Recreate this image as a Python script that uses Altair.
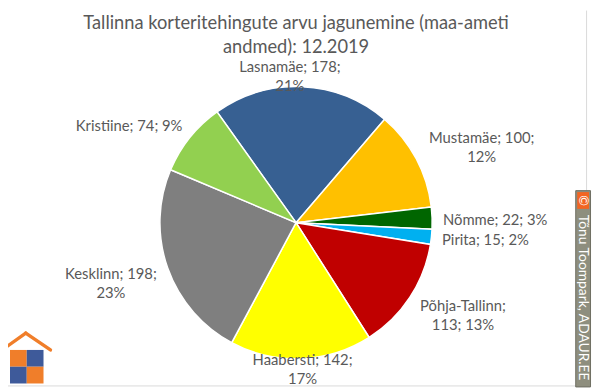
import math
import altair as alt
import pandas as pd

# ---- data ----
names = ["Lasnamäe", "Mustamäe", "Nõmme", "Pirita", "Põhja-Tallinn", "Haabersti", "Kesklinn", "Kristiine"]
values = [178, 100, 22, 15, 113, 142, 198, 74]
percents = [21, 12, 3, 2, 13, 17, 23, 9]
colors = ["#376092", "#FFC000", "#006600", "#00B0F0", "#C00000", "#FFFF00", "#7F7F7F", "#92D050"]
title_lines = ["Tallinna korteritehingute arvu jagunemine (maa-ameti", "andmed): 12.2019"]
credit = "Tõnu Toompark, ADAUR.EE"

# ---- layout / style ----
W, H = 592, 384
CX, CY = 292, 215
R = 138
START = math.radians(-35.5)
FONT = "Lato"
TXT = "#595959"
LH = 19

# line break mode, radius, dx, dy per label
label_style = {
    "Lasnamäe": ("value", 151, -13, 3),
    "Mustamäe": ("value", 203, 9, 19),
    "Nõmme": (None, 202, 0, 4),
    "Pirita": (None, 193, 0, -2),
    "Põhja-Tallinn": ("name", 193, 8, -12),
    "Haabersti": ("value", 149, 1, 0),
    "Kesklinn": ("value", 198, -1, -4),
    "Kristiine": (None, 195, -17, 24),
}


def make_label(n, v, p):
    mode = label_style[n][0]
    if mode == "value":
        return [f"{n}; {v};", f"{p}%"]
    if mode == "name":
        return [f"{n};", f"{v}; {p}%"]
    return [f"{n}; {v}; {p}%"]


df = pd.DataFrame({
    "idx": list(range(len(names))),
    "name": names,
    "value": values,
    "pct": percents,
    "label": [make_label(n, v, p) for n, v, p in zip(names, values, percents)],
})

theta_scale = alt.Scale(domain=[0, sum(values)], range=[START, START + 2 * math.pi])

pie = alt.Chart(df).mark_arc(radius=R, stroke="white", strokeWidth=1.5).encode(
    theta=alt.Theta("value:Q", stack=True, scale=theta_scale),
    color=alt.Color("name:N", scale=alt.Scale(domain=names, range=colors), legend=None),
    order=alt.Order("idx:Q"),
    x=alt.value(CX),
    y=alt.value(CY),
)

base = alt.Chart(df).transform_stack(
    stack="value", groupby=[], as_=["v0", "v1"], sort=[alt.SortField("idx", order="ascending")]
).transform_calculate(mid="(datum.v0 + datum.v1) / 2")

label_layers = []
for n in names:
    mode, r, dx, dy = label_style[n]
    if mode is not None:
        dy -= LH / 2  # centre the two-line block on its anchor
    label_layers.append(
        base.transform_filter(alt.datum.name == n).mark_text(
            radius=r, dx=dx, dy=dy, align="center", baseline="middle",
            font=FONT, fontSize=15, lineHeight=LH, color=TXT,
        ).encode(
            theta=alt.Theta("mid:Q", stack=None, scale=theta_scale),
            text="label:N",
            x=alt.value(CX),
            y=alt.value(CY),
        )
    )

one = pd.DataFrame({"a": [0]})

title_layers = [
    alt.Chart(one).mark_text(font=FONT, fontSize=18.5, color=TXT, align="center", baseline="alphabetic",
                             text=title_lines[0]).encode(x=alt.value(292), y=alt.value(19)),
    alt.Chart(one).mark_text(font=FONT, fontSize=18.5, color=TXT, align="center", baseline="alphabetic",
                             text=title_lines[1]).encode(x=alt.value(292), y=alt.value(43)),
]

# frame edges (right and bottom visible)
frame = [
    alt.Chart(one).mark_rule(color="#d9d9d9", strokeWidth=1).encode(
        x=alt.value(586.5), y=alt.value(0), y2=alt.value(380.5)),
    alt.Chart(one).mark_rule(color="#d9d9d9", strokeWidth=1).encode(
        x=alt.value(0), x2=alt.value(586.5), y=alt.value(380.5)),
]

# copyright box
cbox = [
    alt.Chart(one).mark_rect(fill="#8E8E7E", stroke="#6E6E62", strokeWidth=1).encode(
        x=alt.value(575.5), x2=alt.value(590.5), y=alt.value(182.5), y2=alt.value(381.5)),
    alt.Chart(one).mark_rect(fill="#F26522").encode(
        x=alt.value(577), x2=alt.value(589), y=alt.value(184), y2=alt.value(201)),
    alt.Chart(one).mark_text(text="©", angle=90, color="white", fontSize=13, font=FONT,
                             align="center", baseline="middle").encode(
        x=alt.value(583), y=alt.value(192.5)),
    alt.Chart(one).mark_text(text=credit, angle=90, color="white", fontSize=14, font=FONT,
                             align="center", baseline="middle").encode(
        x=alt.value(583), y=alt.value(291)),
]

# logo
ORG, BLU = "#F07E2A", "#3E5A9A"
logo = [
    alt.Chart(one).mark_rule(color=ORG, strokeWidth=3.5, strokeCap="round").encode(
        x=alt.value(-6), y=alt.value(344), x2=alt.value(18), y2=alt.value(327)),
    alt.Chart(one).mark_rule(color=ORG, strokeWidth=3.5, strokeCap="round").encode(
        x=alt.value(18), y=alt.value(327), x2=alt.value(43), y2=alt.value(344)),
    alt.Chart(one).mark_rect(fill=ORG).encode(
        x=alt.value(2), x2=alt.value(19), y=alt.value(344), y2=alt.value(361)),
    alt.Chart(one).mark_rect(fill=BLU).encode(
        x=alt.value(19), x2=alt.value(36), y=alt.value(344), y2=alt.value(361)),
    alt.Chart(one).mark_rect(fill=BLU).encode(
        x=alt.value(2), x2=alt.value(19), y=alt.value(361), y2=alt.value(378)),
    alt.Chart(one).mark_rect(fill=ORG).encode(
        x=alt.value(19), x2=alt.value(36), y=alt.value(361), y2=alt.value(378)),
]

chart = alt.layer(pie, *label_layers, *title_layers, *frame, *cbox, *logo).properties(
    width=W, height=H, padding=0, autosize=alt.AutoSizeParams(type="none"),
    background="white",
).configure_view(stroke=None)

chart.save("out.html", embed_options={"renderer": "svg", "actions": False})
